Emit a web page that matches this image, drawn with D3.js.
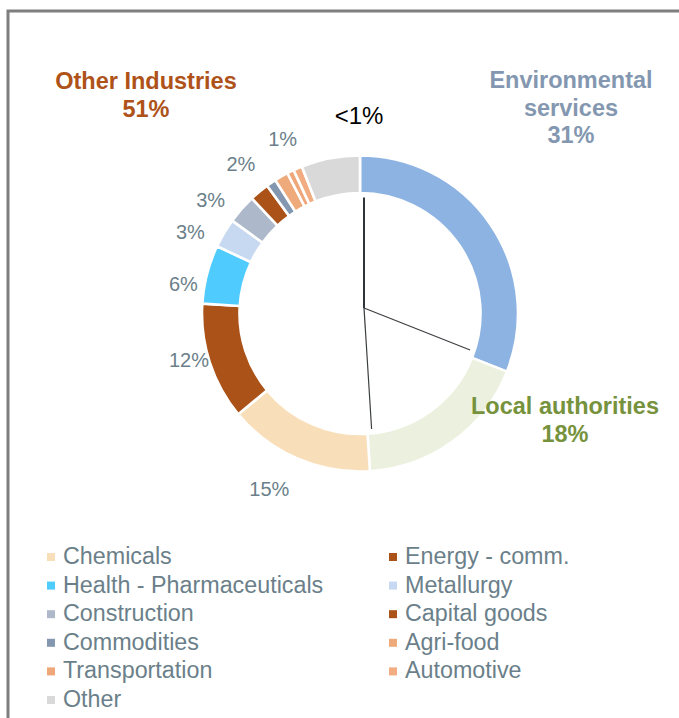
<!DOCTYPE html>
<html>
<head>
<meta charset="utf-8">
<script src="https://cdn.jsdelivr.net/npm/d3@7"></script>
<style>
  html, body { margin: 0; padding: 0; background: #fff; }
  svg { display: block; }
  text { font-family: "Liberation Sans", Arial, sans-serif; }
</style>
</head>
<body>
<svg id="chart" width="679" height="718"></svg>
<script>
// Breakdown of clients by sector, clockwise from 12 o'clock
const categories = [
  "Environmental services", "Local authorities", "Chemicals", "Energy - comm.",
  "Health - Pharmaceuticals", "Metallurgy", "Construction", "Capital goods",
  "Commodities", "Agri-food", "Transportation", "Automotive", "Other"
];
const shares = [31, 18, 15, 12, 6, 3, 3, 2, 1.0, 1.4, 0.7, 0.9, 6.0];
const sliceColors = [
  "#8DB3E2", "#EBF1DE", "#F9DFB9", "#AB5219",
  "#50CBFE", "#C6D9F1", "#ADB9CA", "#AB5219",
  "#8497B0", "#EFAA7C", "#EFA679", "#F1AD81", "#D9D9D9"
];

// Three top-level groups
const groupNames = ["Environmental services", "Local authorities", "Other Industries"];
const groupShares = [31, 18, 51];
const groupTitleLines = [["Environmental", "services"], ["Local authorities"], ["Other Industries"]];
const groupColors = ["#8497B0", "#76923C", "#AE5219"];

// Slices that carry a percentage label
const labelledCategories = [
  "Chemicals", "Energy - comm.", "Health - Pharmaceuticals",
  "Metallurgy", "Construction", "Capital goods", "Agri-food"
];
const smallShareNote = "<1%";

// Legend entries (everything inside "Other Industries")
const legendCategories = categories.slice(2);

// ---- layout ----
const svg = d3.select("#chart");
const cx = 360, cy = 313.5;
const outerR = 158, innerR = 120.5;
const textGrey = "#6B7F8A";

// frame
svg.append("rect")
  .attr("x", 8).attr("y", 11)
  .attr("width", 700).attr("height", 730)
  .attr("fill", "none")
  .attr("stroke", "#7F7F7F")
  .attr("stroke-width", 3);

const data = categories.map((c, i) => ({ name: c, value: shares[i], color: sliceColors[i] }));
const pie = d3.pie().sort(null).value(d => d.value);
const arcs = pie(data);
const arc = d3.arc().innerRadius(innerR).outerRadius(outerR);

const ring = svg.append("g").attr("transform", `translate(${cx},${cy})`);
ring.selectAll("path")
  .data(arcs)
  .join("path")
  .attr("d", arc)
  .attr("fill", d => d.data.color)
  .attr("stroke", "#fff")
  .attr("stroke-width", 2.6)
  .attr("stroke-linejoin", "miter");

// group separators: drawn from a slightly offset hub out to a circle inside the ring
const hub = { x: cx + 4, y: cy - 5.5 };
const sepR = 116;
const groupArcs = d3.pie().sort(null).value(d => d)(groupShares);
groupArcs.forEach((g, i) => {
  const a = g.startAngle;
  const ux = Math.sin(a), uy = -Math.cos(a);
  const dx = hub.x - cx, dy = hub.y - cy;
  const b = dx * ux + dy * uy;
  const c = dx * dx + dy * dy - sepR * sepR;
  const t = -b + Math.sqrt(b * b - c);
  svg.append("line")
    .attr("x1", hub.x).attr("y1", hub.y)
    .attr("x2", hub.x + t * ux).attr("y2", hub.y + t * uy)
    .attr("stroke", i === 0 ? "#2E3438" : "#3C3F42")
    .attr("stroke-width", i === 0 ? 2 : 1.2);
});

// percentage labels around the ring
const labelPlacement = {
  "Chemicals": { shift: 4, r: 197 },
  "Energy - comm.": { shift: 3, r: 177 },
  "Health - Pharmaceuticals": { shift: -5, r: 179 },
  "Metallurgy": { shift: -5, r: 188 },
  "Construction": { shift: -4, r: 188 },
  "Capital goods": { shift: 1, r: 191 },
  "Agri-food": { shift: 6, r: 191 }
};
const fmtPct = v => Math.round(v) + "%";
arcs.filter(d => labelledCategories.includes(d.data.name)).forEach(d => {
  const p = labelPlacement[d.data.name];
  const a = (d.startAngle + d.endAngle) / 2 + p.shift * Math.PI / 180;
  svg.append("text")
    .attr("x", cx + p.r * Math.sin(a))
    .attr("y", cy - p.r * Math.cos(a))
    .attr("dy", "0.36em")
    .attr("text-anchor", "middle")
    .attr("font-size", 20)
    .attr("fill", textGrey)
    .text(fmtPct(d.data.value));
});

// note for the sub-1% slices
svg.append("text")
  .attr("x", cx - 1).attr("y", 124)
  .attr("text-anchor", "middle")
  .attr("font-size", 24)
  .attr("fill", "#000")
  .text(smallShareNote);

// group titles
const titlePos = [
  { x: 571, y: 88 },
  { x: 565, y: 414 },
  { x: 146, y: 89 }
];
const lineStep = 27.5;
groupNames.forEach((g, i) => {
  const t = svg.append("text")
    .attr("text-anchor", "middle")
    .attr("font-size", 23.5)
    .attr("font-weight", "bold")
    .attr("fill", groupColors[i]);
  const lines = groupTitleLines[i].concat([groupShares[i] + "%"]);
  lines.forEach((ln, k) => {
    t.append("tspan")
      .attr("x", titlePos[i].x)
      .attr("y", titlePos[i].y + k * lineStep)
      .text(ln);
  });
});

// legend: two columns, filled row by row
const legendX = [47, 389];
const legendTop = 564, legendStep = 28.6;
const legend = svg.append("g");
legendCategories.forEach((name, i) => {
  const col = i % 2, row = Math.floor(i / 2);
  const x = legendX[col], y = legendTop + row * legendStep;
  legend.append("rect")
    .attr("x", x).attr("y", y - 11)
    .attr("width", 8).attr("height", 8)
    .attr("fill", sliceColors[categories.indexOf(name)]);
  legend.append("text")
    .attr("x", x + 16).attr("y", y)
    .attr("font-size", 23.3)
    .attr("fill", textGrey)
    .text(name);
});
</script>
</body>
</html>
